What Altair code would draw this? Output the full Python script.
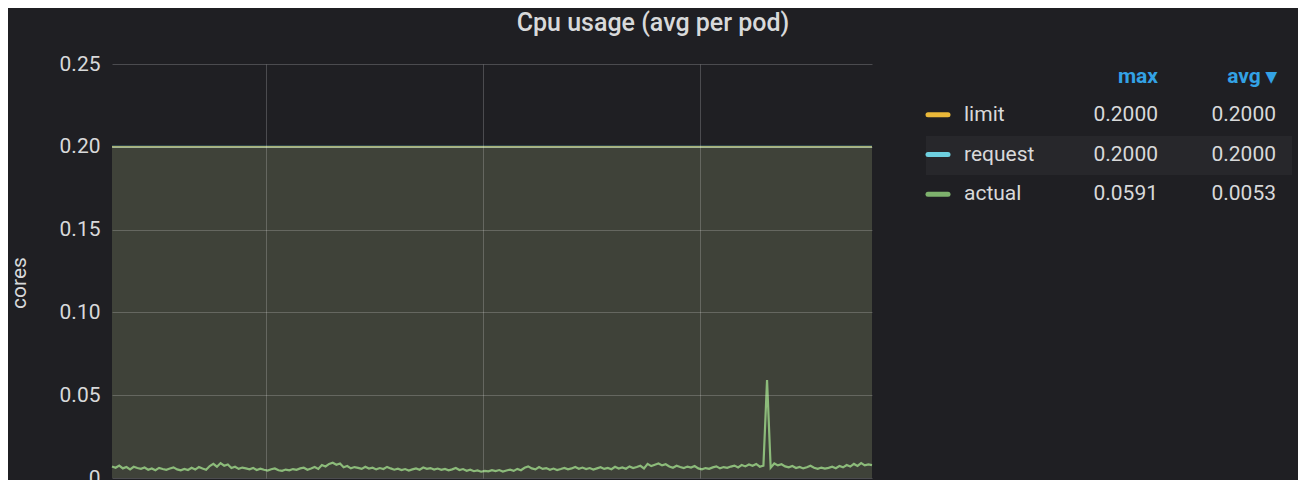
import altair as alt
import pandas as pd

# ---- data ----
minutes = list(range(211))          # one sample per minute, starting 11:17:30
hour_marks = [42.5, 102.5, 162.5]   # 12:00, 13:00, 14:00 in minutes from start

actual = [
    0.0070, 0.0062, 0.0075, 0.0058, 0.0066, 0.0052, 0.0068, 0.0060, 0.0055, 0.0063,
    0.0050, 0.0058, 0.0047, 0.0061, 0.0054, 0.0049, 0.0057, 0.0064, 0.0052, 0.0046,
    0.0055, 0.0048, 0.0062, 0.0051, 0.0066, 0.0057, 0.0050, 0.0072, 0.0085, 0.0068,
    0.0090, 0.0074, 0.0082, 0.0060, 0.0068, 0.0055, 0.0063, 0.0058, 0.0052, 0.0061,
    0.0048, 0.0056, 0.0050, 0.0045, 0.0053, 0.0058, 0.0047, 0.0043, 0.0051, 0.0046,
    0.0054, 0.0049, 0.0058, 0.0062, 0.0050, 0.0057, 0.0066, 0.0055, 0.0078, 0.0070,
    0.0085, 0.0092, 0.0080, 0.0088, 0.0065, 0.0072, 0.0058, 0.0066, 0.0061, 0.0055,
    0.0068, 0.0057, 0.0062, 0.0052, 0.0060, 0.0054, 0.0067, 0.0058, 0.0050, 0.0056,
    0.0048, 0.0054, 0.0045, 0.0052, 0.0058, 0.0050, 0.0063, 0.0055, 0.0060, 0.0051,
    0.0057, 0.0049, 0.0055, 0.0046, 0.0052, 0.0060, 0.0048, 0.0054, 0.0044, 0.0050,
    0.0041, 0.0046, 0.0038, 0.0043, 0.0040, 0.0047, 0.0042, 0.0048, 0.0039, 0.0045,
    0.0050, 0.0043, 0.0055, 0.0047, 0.0062, 0.0070, 0.0058, 0.0052, 0.0066, 0.0055,
    0.0060, 0.0050, 0.0057, 0.0048, 0.0054, 0.0061, 0.0052, 0.0058, 0.0067, 0.0056,
    0.0063, 0.0054, 0.0060, 0.0051, 0.0058, 0.0065, 0.0055, 0.0061, 0.0053, 0.0068,
    0.0057, 0.0064, 0.0056, 0.0070, 0.0060, 0.0066, 0.0074, 0.0058, 0.0085, 0.0072,
    0.0080, 0.0088, 0.0076, 0.0083, 0.0070, 0.0062, 0.0074, 0.0066, 0.0060, 0.0069,
    0.0063, 0.0072, 0.0058, 0.0052, 0.0060, 0.0055, 0.0064, 0.0070, 0.0058, 0.0066,
    0.0061, 0.0069, 0.0075, 0.0064, 0.0078, 0.0070, 0.0082, 0.0074, 0.0085, 0.0068,
    0.0075, 0.0591, 0.0062, 0.0088, 0.0076, 0.0083, 0.0070, 0.0064, 0.0072, 0.0060,
    0.0067, 0.0058, 0.0065, 0.0074, 0.0062, 0.0055, 0.0063, 0.0057, 0.0061, 0.0068,
    0.0059, 0.0072, 0.0064, 0.0078, 0.0069, 0.0085, 0.0073, 0.0090, 0.0076, 0.0082,
    0.0078,
]
limit = [0.2] * len(minutes)
request = [0.2] * len(minutes)

series_names = ["limit", "request", "actual"]
series_colors = ["#EAB839", "#6ED0E0", "#7EB26D"]
series_max = [0.2000, 0.2000, 0.0591]
series_avg = [0.2000, 0.2000, 0.0053]
y_ticks = [0, 0.05, 0.10, 0.15, 0.20, 0.25]
title_text = "Cpu usage (avg per pod)"
y_title = "cores"
header_max = "max"
header_avg = "avg ▾"

df = pd.DataFrame({"minute": minutes, "actual": actual, "limit": limit, "request": request})
leg = pd.DataFrame({"series": series_names, "max": series_max, "avg": series_avg})

FONT = "Roboto"
TXT = "#d8d9da"
BG = "#1f1f23"

x_scale = alt.Scale(domain=[0, 210], nice=False, zero=False)
x_enc = alt.X("minute:Q", scale=x_scale,
              axis=alt.Axis(values=hour_marks, labels=False, ticks=False, domain=False, title=None,
                            grid=True, gridColor="#ffffff", gridOpacity=0.2, zindex=1))
y_scale = alt.Scale(domain=[0, 0.25], nice=False)
y_axis = alt.Axis(values=y_ticks, labelExpr="datum.value == 0 ? '0' : format(datum.value, '.2f')",
                  labelFontSize=21, labelFont=FONT, labelColor=TXT, ticks=False, domain=False,
                  labelPadding=12, title=None, grid=True, gridColor="#ffffff", gridOpacity=0.2, zindex=1)

base = alt.Chart(df)
area = base.mark_area(color="#3f4239", opacity=1).encode(
    x=x_enc, y=alt.Y("limit:Q", scale=y_scale, axis=y_axis))
req_line = base.mark_line(color="#6ED0E0", strokeWidth=2, opacity=0.8).encode(
    x=alt.X("minute:Q", scale=x_scale), y=alt.Y("request:Q", scale=y_scale))
lim_line = base.mark_line(color="#EAB839", strokeWidth=1.2, opacity=0.7).encode(
    x=alt.X("minute:Q", scale=x_scale), y=alt.Y("limit:Q", scale=y_scale))
act_line = base.mark_line(color="#8cbb7a", strokeWidth=2.2).encode(
    x=alt.X("minute:Q", scale=x_scale), y=alt.Y("actual:Q", scale=y_scale))

main = alt.layer(area, req_line, lim_line, act_line)

row_y = alt.Y("series:O", scale=alt.Scale(domain=series_names, range=[31, 150]), axis=None)
lbase = alt.Chart(leg)
highlight = lbase.transform_filter("datum.series == 'request'").mark_rect(color="#27272b").encode(
    x=alt.value(814), x2=alt.value(1180), y=alt.value(72), y2=alt.value(111))
swatch = lbase.mark_rule(strokeWidth=5, strokeCap="round").encode(
    x=alt.value(816), x2=alt.value(836), y=row_y,
    color=alt.Color("series:N", scale=alt.Scale(domain=series_names, range=series_colors), legend=None))
labels = lbase.mark_text(align="left", baseline="middle", font=FONT, fontSize=21, color=TXT).encode(
    x=alt.value(852), y=row_y, text="series:N")
maxs = lbase.mark_text(align="right", baseline="middle", font=FONT, fontSize=21, color=TXT).encode(
    x=alt.value(1046), y=row_y, text=alt.Text("max:Q", format=".4f"))
avgs = lbase.mark_text(align="right", baseline="middle", font=FONT, fontSize=21, color=TXT).encode(
    x=alt.value(1164), y=row_y, text=alt.Text("avg:Q", format=".4f"))
h_max = alt.Chart(pd.DataFrame({"t": [header_max]})).mark_text(
    align="right", baseline="middle", font=FONT, fontSize=21, fontWeight="bold", color="#33a2e5").encode(
    x=alt.value(1046), y=alt.value(13), text="t:N")
h_avg = alt.Chart(pd.DataFrame({"t": [header_avg]})).mark_text(
    align="right", baseline="middle", font=FONT, fontSize=21, fontWeight="bold", color="#33a2e5").encode(
    x=alt.value(1165), y=alt.value(13), text="t:N")
title = alt.Chart(pd.DataFrame({"t": [title_text]})).mark_text(
    align="center", baseline="alphabetic", font=FONT, fontSize=25, fontWeight=500, color=TXT).encode(
    x=alt.value(541), y=alt.value(-33), text="t:N")
ytitle = alt.Chart(pd.DataFrame({"t": [y_title]})).mark_text(
    align="center", baseline="middle", font=FONT, fontSize=21, angle=270, color=TXT).encode(
    x=alt.value(-92), y=alt.value(219), text="t:N")

legend = alt.layer(highlight, swatch, labels, maxs, avgs, h_max, h_avg, title, ytitle)

chart = alt.layer(main, legend).resolve_scale(y="independent", color="independent").properties(
    width=760, height=414,
    autosize=alt.AutoSizeParams(type="none"),
    padding={"left": 104, "top": 56, "right": 426, "bottom": 2},
    background=BG,
).configure_view(stroke=None)

chart.save("out.html", embed_options={"renderer": "svg", "actions": False})
